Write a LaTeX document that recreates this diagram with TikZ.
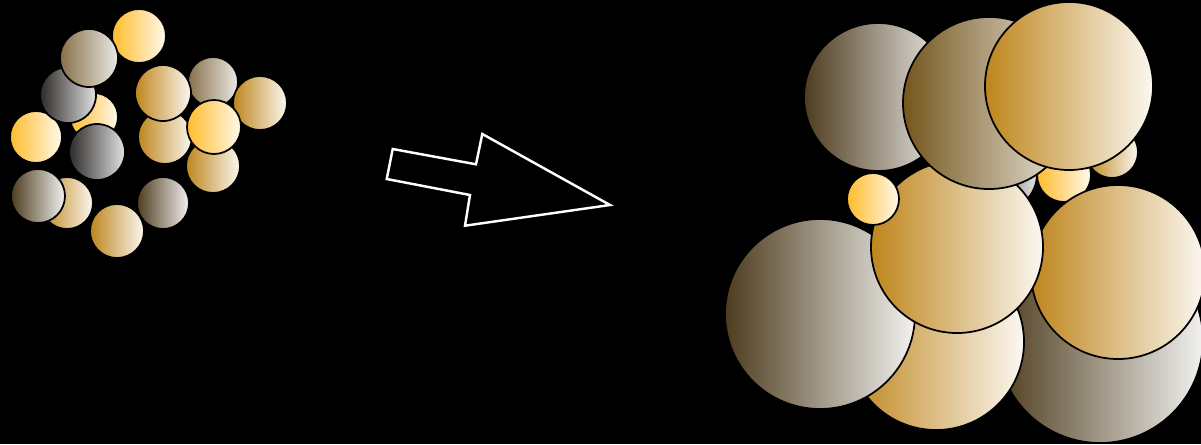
\documentclass[tikz,border=0pt]{standalone}
\usepackage{tikz}
\definecolor{ballYellowL}{HTML}{FFBC2C}
\definecolor{ballYellowR}{HTML}{FFF9EC}
\definecolor{ballGoldL}{HTML}{BE851C}
\definecolor{ballGoldR}{HTML}{FBF8F1}
\definecolor{ballTanL}{HTML}{4E3C1E}
\definecolor{ballTanR}{HTML}{F2F2F0}
\definecolor{ballKhakiL}{HTML}{86704A}
\definecolor{ballKhakiR}{HTML}{ECEAE4}
\definecolor{ballGreyL}{HTML}{2C2A28}
\definecolor{ballGreyR}{HTML}{E2E2E2}
\definecolor{ballBrownL}{HTML}{74561C}
\definecolor{ballBrownR}{HTML}{EEEBE4}

\begin{document}
\begin{tikzpicture}[x=0.02cm,y=-0.02cm,
  ball/.style={draw=black,line width=1pt},
  yellowball/.style={ball,left color=ballYellowL,right color=ballYellowR},
  goldball/.style={ball,left color=ballGoldL,right color=ballGoldR},
  tanball/.style={ball,left color=ballTanL,right color=ballTanR},
  khakiball/.style={ball,left color=ballKhakiL,right color=ballKhakiR},
  greyball/.style={ball,left color=ballGreyL,right color=ballGreyR},
  brownball/.style={ball,left color=ballBrownL,right color=ballBrownR},
  bigarrow/.style={draw=white,fill=black,line width=1.4pt,line join=miter}]
  \fill[black] (0,0) rectangle (1201,444);
  \useasboundingbox (0,0) rectangle (1201,444);

  % small cluster
  \path[yellowball] (94,117) circle[radius=24];
  \path[yellowball] (36,137) circle[radius=26];
  \path[greyball]   (68,95)  circle[radius=28];
  \path[yellowball] (139,36) circle[radius=27];
  \path[khakiball]  (89,58)  circle[radius=29];
  \path[greyball]   (97,152) circle[radius=28];
  \path[goldball]   (67,203) circle[radius=26];
  \path[tanball]    (38,196) circle[radius=27];
  \path[goldball]   (117,231) circle[radius=27];
  \path[tanball]    (163,203) circle[radius=26];
  \path[khakiball]  (213,82) circle[radius=25];
  \path[goldball]   (165,137) circle[radius=27];
  \path[goldball]   (163,93) circle[radius=28];
  \path[goldball]   (213,166) circle[radius=27];
  \path[goldball]   (260,103) circle[radius=27];
  \path[yellowball] (214,127) circle[radius=27];

  % arrow
  \draw[bigarrow] (392.7,149) -- (476,164.3) -- (482.3,134) -- (610,205)
    -- (465,225.7) -- (470,195) -- (386.7,179) -- cycle;

  % big cluster
  \path[greyball]   (1000,174) circle[radius=37];
  \path[goldball]   (1112,152) circle[radius=26];
  \path[yellowball] (1064,175) circle[radius=27];
  \path[tanball]    (1100,340) circle[radius=103];
  \path[goldball]   (936,342) circle[radius=88];
  \path[tanball]    (820,314) circle[radius=95];
  \path[goldball]   (1118,272) circle[radius=87];
  \path[goldball]   (957,247) circle[radius=86];
  \path[yellowball] (873,199) circle[radius=26];
  \path[tanball]    (878,97)  circle[radius=74];
  \path[brownball]  (989,103) circle[radius=86];
  \path[goldball]   (1069,86) circle[radius=84];
\end{tikzpicture}
\end{document}
